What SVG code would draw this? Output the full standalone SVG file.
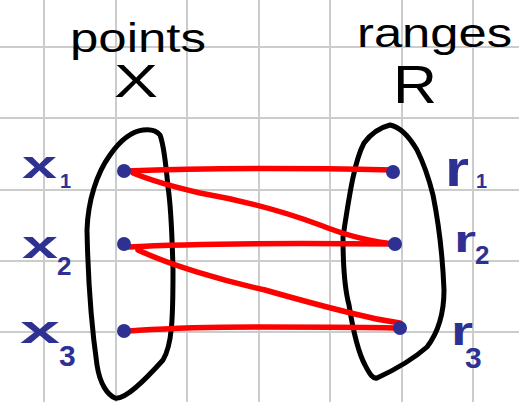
<svg xmlns="http://www.w3.org/2000/svg" width="519" height="402" viewBox="0 0 519 402">
<style>
.grid line{stroke:#cccccc;stroke-width:2}
.blob{fill:none;stroke:#000;stroke-width:5;stroke-linecap:round;stroke-linejoin:round}
.edge{fill:none;stroke:#ff0000;stroke-width:5.5;stroke-linecap:round;stroke-linejoin:round}
.dot{fill:#2e3192}
.title{font-family:"Liberation Sans",Arial,sans-serif;fill:#000}
.lbl{font-family:"Liberation Sans",Arial,sans-serif;fill:#2e3192;font-weight:bold}
</style>
<rect width="519" height="402" fill="#fff"/>
<g class="grid">
<line x1="44" y1="0" x2="44" y2="402"/><line x1="116" y1="0" x2="116" y2="402"/><line x1="187" y1="0" x2="187" y2="402"/><line x1="259" y1="0" x2="259" y2="402"/><line x1="330" y1="0" x2="330" y2="402"/><line x1="402" y1="0" x2="402" y2="402"/><line x1="473" y1="0" x2="473" y2="402"/>
<line x1="0" y1="47" x2="519" y2="47"/><line x1="0" y1="118" x2="519" y2="118"/><line x1="0" y1="190" x2="519" y2="190"/><line x1="0" y1="261" x2="519" y2="261"/><line x1="0" y1="332" x2="519" y2="332"/>
</g>
<g id="titleX">
<text class="title" x="70" y="52" font-size="40" textLength="136" lengthAdjust="spacingAndGlyphs">points</text>
<text class="title" x="114" y="97" font-size="46" textLength="44" lengthAdjust="spacingAndGlyphs">X</text>
</g>
<g id="titleR">
<text class="title" x="357" y="47" font-size="40" textLength="155" lengthAdjust="spacingAndGlyphs">ranges</text>
<text class="title" x="393" y="103" font-size="54" textLength="44" lengthAdjust="spacingAndGlyphs">R</text>
</g>
<g id="setX">
<path class="blob" d="M143,130 C128,132 117,145 110,155 C97,173 88,200 87,230 C88,280 92,330 97,365 C100,385 108,395 115,398 C125,400 145,380 163,360 C172,345 173,320 173,270 C172,230 170,200 168,187 C166,165 164,145 160,135 C156,130 150,129 143,130 Z"/>
</g>
<g id="setR">
<path class="blob" d="M390,125 C378,128 370,135 364,143 C355,160 350,190 343,237 C343,270 345,290 349,305 C353,330 358,352 365,365 C370,375 373,379 377,378 C390,372 410,362 427,347 C440,330 444,310 444,290 C443,265 441,235 433,195 C428,175 422,160 417,150 C410,138 400,127 390,125 Z"/>
</g>
<g id="connectors">
<path class="edge" d="M126,171 C200,168 300,168 393,170"/>
<path class="edge" d="M133,173 C150,180 170,186 200,193 C240,200 280,210 320,225 C345,235 370,242 397,244"/>
<path class="edge" d="M128,247 C200,243 300,243 395,244"/>
<path class="edge" d="M138,250 C170,265 220,280 265,290 C300,300 330,308 355,314 C370,318 385,321 400,323"/>
<path class="edge" d="M128,331 C160,329 180,327 260,327 C320,327 370,327 400,328"/>
</g>
<g id="x1"><circle class="dot" cx="124" cy="171" r="7"/><text class="lbl" x="22" y="178" font-size="38" textLength="35" lengthAdjust="spacingAndGlyphs">x</text><text class="lbl" x="60" y="188" font-size="20">1</text></g>
<g id="x2"><circle class="dot" cx="124" cy="244" r="7"/><text class="lbl" x="22" y="258" font-size="38" textLength="36" lengthAdjust="spacingAndGlyphs">x</text><text class="lbl" x="57" y="275" font-size="26">2</text></g>
<g id="x3"><circle class="dot" cx="124" cy="331" r="7"/><text class="lbl" x="20" y="343" font-size="38" textLength="40" lengthAdjust="spacingAndGlyphs">x</text><text class="lbl" x="59" y="366" font-size="30">3</text></g>
<g id="r1"><circle class="dot" cx="393" cy="172" r="7"/><text class="lbl" x="445" y="186" font-size="50" textLength="24" lengthAdjust="spacingAndGlyphs">r</text><text class="lbl" x="476" y="188" font-size="20">1</text></g>
<g id="r2"><circle class="dot" cx="395" cy="244" r="7"/><text class="lbl" x="454" y="252" font-size="36" textLength="22" lengthAdjust="spacingAndGlyphs">r</text><text class="lbl" x="475" y="264" font-size="26">2</text></g>
<g id="r3"><circle class="dot" cx="400" cy="328" r="7"/><text class="lbl" x="451" y="345" font-size="40" textLength="22" lengthAdjust="spacingAndGlyphs">r</text><text class="lbl" x="465" y="368" font-size="30">3</text></g>
</svg>
